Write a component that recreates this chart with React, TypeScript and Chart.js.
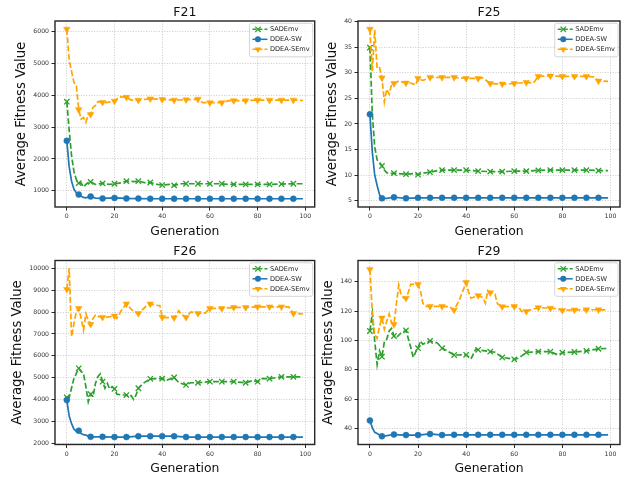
import React, { useEffect, useRef } from 'react';
import { Chart, registerables } from 'chart.js';

Chart.register(...registerables);

// ---------- data ----------
const SERIES_NAMES = ['SADEmv', 'DDEA-SW', 'DDEA-SEmv'];
const X_TICKS = [0, 20, 40, 60, 80, 100];
const X_LABEL = 'Generation';
const Y_LABEL = 'Average Fitness Value';

// F21
const F21_SADE_GEN = [0, 1, 2, 3, 4, 5, 6, 7, 8, 9, 10, 12, 15, 18, 20, 22, 25, 28, 30, 33, 35, 38, 40, 43, 45, 48, 50, 55, 60, 65, 68, 70, 75, 80, 85, 90, 95, 99];
const F21_SADE_VAL = [3800, 2900, 2100, 1600, 1350, 1240, 1250, 1120, 1200, 1260, 1280, 1200, 1230, 1200, 1220, 1240, 1300, 1290, 1300, 1250, 1260, 1200, 1180, 1200, 1170, 1220, 1220, 1220, 1220, 1220, 1200, 1200, 1200, 1200, 1200, 1210, 1220, 1220];
const F21_SW_GEN = [0, 1, 2, 3, 4, 5, 6, 7, 8, 10, 12, 15, 20, 25, 30, 35, 40, 45, 50, 55, 60, 65, 70, 75, 80, 85, 90, 95, 99];
const F21_SW_VAL = [2570, 1750, 1300, 1050, 930, 880, 830, 790, 780, 820, 770, 760, 775, 760, 755, 750, 750, 750, 750, 750, 750, 750, 750, 750, 750, 750, 750, 750, 750];
const F21_SEMV_GEN = [0, 1, 2, 3, 4, 5, 6, 7, 8, 9, 10, 11, 12, 13, 15, 17, 20, 22, 25, 27, 30, 35, 40, 45, 50, 55, 57, 60, 65, 68, 70, 75, 80, 85, 90, 95, 99];
const F21_SEMV_VAL = [6080, 5100, 4750, 4400, 4300, 3550, 3250, 3300, 3150, 3400, 3400, 3620, 3680, 3800, 3780, 3780, 3820, 3950, 3940, 3850, 3850, 3890, 3870, 3850, 3860, 3880, 3770, 3770, 3770, 3830, 3830, 3830, 3850, 3850, 3850, 3850, 3840];
const F21_Y_TICKS = [1000, 2000, 3000, 4000, 5000, 6000];

// F25
const F25_SADE_GEN = [0, 1, 2, 3, 4, 5, 6, 7, 8, 10, 12, 15, 18, 20, 22, 25, 28, 30, 35, 40, 45, 50, 55, 60, 65, 70, 75, 80, 85, 90, 95, 99];
const F25_SADE_VAL = [34.9, 22, 15.5, 13.0, 12.5, 11.8, 11.0, 10.5, 10.3, 10.4, 10.3, 10.2, 10.3, 10.1, 10.4, 10.6, 10.9, 11.0, 11.0, 11.0, 10.8, 10.7, 10.7, 10.8, 10.8, 10.95, 11.0, 11.0, 11.0, 11.0, 10.9, 10.9];
const F25_SW_GEN = [0, 1, 2, 3, 4, 5, 7, 10, 15, 20, 25, 30, 35, 40, 45, 50, 55, 60, 65, 70, 75, 80, 85, 90, 95, 99];
const F25_SW_VAL = [21.9, 14.5, 10.0, 8.0, 6.2, 5.5, 5.5, 5.7, 5.5, 5.6, 5.6, 5.6, 5.6, 5.6, 5.6, 5.6, 5.6, 5.6, 5.6, 5.6, 5.6, 5.6, 5.6, 5.6, 5.6, 5.6];
const F25_SEMV_GEN = [0, 1, 2, 3, 4, 5, 6, 7, 8, 9, 10, 12, 15, 17, 19, 20, 22, 25, 30, 35, 40, 45, 47, 50, 55, 60, 65, 68, 70, 75, 80, 85, 90, 93, 95, 99];
const F25_SEMV_VAL = [38.5, 30.3, 38.4, 30.8, 31.0, 29.0, 24.3, 26.8, 25.8, 27.7, 27.9, 28.4, 28.0, 28.0, 27.6, 28.9, 28.5, 29.1, 29.1, 29.1, 28.9, 28.9, 29.0, 27.9, 27.8, 27.9, 28.1, 28.0, 29.3, 29.4, 29.3, 29.3, 29.3, 29.2, 28.4, 28.3];
const F25_Y_TICKS = [5, 10, 15, 20, 25, 30, 35, 40];

// F26
const F26_SADE_GEN = [0, 1, 3, 5, 6, 7, 8, 9, 10, 11, 12, 13, 14, 15, 16, 17, 18, 19, 20, 21, 23, 25, 26, 27, 28, 29, 30, 32, 35, 38, 40, 42, 45, 47, 50, 52, 55, 60, 65, 70, 75, 78, 80, 82, 85, 90, 95, 99];
const F26_SADE_VAL = [4100, 4100, 4970, 5430, 5280, 5200, 4590, 3900, 4250, 4130, 4740, 5050, 5170, 4820, 4520, 4740, 4490, 4590, 4490, 4250, 4210, 4210, 4130, 4180, 4010, 4200, 4520, 4740, 4950, 4960, 4960, 4890, 5010, 4770, 4670, 4770, 4770, 4820, 4820, 4820, 4770, 4870, 4820, 4960, 4960, 5040, 5040, 5040];
const F26_SW_GEN = [0, 1, 2, 3, 4, 5, 6, 7, 8, 10, 15, 20, 25, 30, 35, 40, 45, 50, 55, 60, 65, 70, 75, 80, 85, 90, 95, 99];
const F26_SW_VAL = [3980, 3250, 2900, 2650, 2550, 2580, 2450, 2400, 2380, 2300, 2300, 2290, 2290, 2330, 2330, 2330, 2330, 2290, 2290, 2290, 2290, 2290, 2290, 2290, 2290, 2290, 2290, 2290];
const F26_SEMV_GEN = [0, 1, 2, 3, 4, 5, 6, 7, 8, 9, 10, 11, 12, 13, 15, 17, 20, 21, 23, 25, 28, 30, 33, 35, 38, 39, 40, 45, 47, 48, 50, 52, 55, 58, 60, 65, 70, 75, 80, 85, 90, 93, 95, 99];
const F26_SEMV_VAL = [9040, 10000, 6870, 7480, 8020, 8170, 7710, 7180, 7920, 7620, 7440, 7710, 7860, 7800, 7760, 7770, 7820, 7710, 8090, 8370, 8020, 7940, 8240, 8370, 8300, 8300, 7760, 7740, 8060, 7900, 7760, 8010, 7940, 7950, 8170, 8170, 8210, 8210, 8240, 8240, 8240, 8240, 7940, 7920];
const F26_Y_TICKS = [2000, 3000, 4000, 5000, 6000, 7000, 8000, 9000, 10000];

// F29
const F29_SADE_GEN = [0, 1, 2, 3, 4, 5, 6, 7, 8, 9, 10, 11, 13, 15, 16, 17, 18, 19, 20, 21, 22, 25, 28, 30, 32, 35, 40, 42, 44, 45, 50, 52, 55, 60, 62, 65, 70, 75, 78, 80, 85, 90, 95, 99];
const F29_SADE_VAL = [106.4, 118.7, 99.6, 83.5, 92.9, 88.9, 99.0, 100.8, 106.4, 108.2, 103.0, 101.9, 105.2, 106.8, 101.0, 95.1, 88.4, 92.0, 94.7, 99.6, 97.4, 99.6, 98.3, 94.7, 92.9, 90.0, 90.2, 87.3, 94.0, 93.6, 92.3, 91.9, 88.4, 87.1, 88.0, 91.8, 92.3, 92.3, 90.2, 91.6, 92.1, 92.8, 94.3, 94.5];
const F29_SW_GEN = [0, 1, 2, 3, 4, 5, 7, 10, 15, 20, 25, 30, 35, 40, 45, 50, 55, 60, 65, 70, 75, 80, 85, 90, 95, 99];
const F29_SW_VAL = [45.4, 40.5, 37.3, 36.5, 35.5, 34.6, 35.0, 35.8, 35.4, 35.4, 36.2, 35.4, 35.6, 35.6, 35.6, 35.6, 35.6, 35.6, 35.6, 35.6, 35.6, 35.6, 35.6, 35.6, 35.6, 35.5];
const F29_SEMV_GEN = [0, 1, 2, 3, 4, 5, 6, 7, 8, 9, 10, 11, 12, 13, 14, 15, 16, 17, 20, 21, 22, 23, 25, 30, 33, 35, 37, 40, 41, 42, 45, 47, 48, 49, 50, 52, 53, 55, 60, 62, 63, 65, 67, 70, 75, 78, 80, 85, 90, 95, 99];
const F29_SEMV_VAL = [148.5, 118.7, 104.1, 101.4, 109.7, 115.3, 107.5, 113.0, 118.0, 112.0, 110.9, 125.0, 137.8, 131.0, 129.0, 128.8, 133.0, 138.2, 138.2, 134.0, 125.4, 123.2, 123.2, 123.2, 123.0, 120.7, 127.0, 139.5, 133.0, 128.8, 130.6, 129.2, 125.4, 134.0, 132.6, 131.5, 125.0, 123.0, 123.2, 122.5, 119.8, 119.8, 120.9, 122.4, 122.0, 121.5, 120.5, 120.8, 120.9, 120.9, 120.7];
const F29_Y_TICKS = [40, 60, 80, 100, 120, 140];

// ---------- styles ----------
const FONT = '"DejaVu Sans", sans-serif';
const SERIES_STYLE = [
  { color: '#2ca02c', dash: [5.8, 2.5], point: 'crossRot', radius: 3.8, rotation: 0 },
  { color: '#1f77b4', dash: [] as number[], point: 'circle', radius: 3.0, rotation: 0 },
  { color: '#ffa500', dash: [5.8, 2.5], point: 'triangle', radius: 3.8, rotation: 180 },
];

type PanelDef = {
  title: string;
  gens: number[][];
  vals: number[][];
  yMin: number;
  yMax: number;
  yTicks: number[];
  left: number;
  top: number;
  width: number;
  height: number;
  padTop: number;
  padRight: number;
  axisW: number;
  axisH: number;
};

const PANELS: PanelDef[] = [
  { title: 'F21', gens: [F21_SADE_GEN, F21_SW_GEN, F21_SEMV_GEN], vals: [F21_SADE_VAL, F21_SW_VAL, F21_SEMV_VAL], yMin: 490, yMax: 6335, yTicks: F21_Y_TICKS, left: 0, top: 0, width: 320, height: 240, padTop: 21, padRight: 3, axisW: 55, axisH: 33 },
  { title: 'F25', gens: [F25_SADE_GEN, F25_SW_GEN, F25_SEMV_GEN], vals: [F25_SADE_VAL, F25_SW_VAL, F25_SEMV_VAL], yMin: 3.8, yMax: 40.1, yTicks: F25_Y_TICKS, left: 320, top: 0, width: 309, height: 240, padTop: 21, padRight: 9, axisW: 38, axisH: 33 },
  { title: 'F26', gens: [F26_SADE_GEN, F26_SW_GEN, F26_SEMV_GEN], vals: [F26_SADE_VAL, F26_SW_VAL, F26_SEMV_VAL], yMin: 1950, yMax: 10355, yTicks: F26_Y_TICKS, left: 0, top: 240, width: 320, height: 237, padTop: 20.5, padRight: 3, axisW: 55, axisH: 32.5 },
  { title: 'F29', gens: [F29_SADE_GEN, F29_SW_GEN, F29_SEMV_GEN], vals: [F29_SADE_VAL, F29_SW_VAL, F29_SEMV_VAL], yMin: 29, yMax: 154.5, yTicks: F29_Y_TICKS, left: 320, top: 240, width: 309, height: 237, padTop: 20.5, padRight: 9, axisW: 38, axisH: 32.5 },
];

const TICK_FONT_SIZE = 6.2;

function drawMarker(ctx: CanvasRenderingContext2D, kind: number, x: number, y: number) {
  const st = SERIES_STYLE[kind];
  ctx.save();
  ctx.fillStyle = st.color;
  ctx.strokeStyle = st.color;
  ctx.setLineDash([]);
  if (kind === 0) {
    const d = st.radius * 0.707;
    ctx.lineWidth = 1.2;
    ctx.beginPath();
    ctx.moveTo(x - d, y - d); ctx.lineTo(x + d, y + d);
    ctx.moveTo(x - d, y + d); ctx.lineTo(x + d, y - d);
    ctx.stroke();
  } else if (kind === 1) {
    ctx.beginPath();
    ctx.arc(x, y, st.radius, 0, Math.PI * 2);
    ctx.fill();
  } else {
    const r = st.radius;
    ctx.beginPath();
    ctx.moveTo(x, y + r);
    ctx.lineTo(x - r * 0.866, y - r * 0.5);
    ctx.lineTo(x + r * 0.866, y - r * 0.5);
    ctx.closePath();
    ctx.fill();
  }
  ctx.restore();
}

const decorPlugin = {
  id: 'decor',
  afterDraw(chart: any, _args: any, opts: any) {
    const ctx: CanvasRenderingContext2D = chart.ctx;
    const a = chart.chartArea;
    ctx.save();
    // frame
    ctx.strokeStyle = '#262626';
    ctx.lineWidth = 1.4;
    ctx.setLineDash([]);
    ctx.strokeRect(a.left, a.top, a.right - a.left, a.bottom - a.top);

    // title
    ctx.fillStyle = '#111';
    ctx.textAlign = 'center';
    ctx.textBaseline = 'middle';
    ctx.font = `12.5px ${FONT}`;
    ctx.fillText(opts.title, (a.left + a.right) / 2, a.top - 8.5);

    // x label
    ctx.font = `12.4px ${FONT}`;
    ctx.fillText(X_LABEL, (a.left + a.right) / 2, a.bottom + 24.5);

    // y label
    ctx.font = `${TICK_FONT_SIZE}px ${FONT}`;
    let maxW = 0;
    for (const t of opts.yTicks as number[]) maxW = Math.max(maxW, ctx.measureText(String(t)).width);
    ctx.save();
    ctx.translate(a.left - maxW - 17.5, (a.top + a.bottom) / 2);
    ctx.rotate(-Math.PI / 2);
    ctx.font = `13.2px ${FONT}`;
    ctx.fillText(Y_LABEL, 0, 0);
    ctx.restore();

    // legend
    ctx.font = `6.6px ${FONT}`;
    let tw = 0;
    for (const n of SERIES_NAMES) tw = Math.max(tw, ctx.measureText(n).width);
    const bw = 20 + tw + 3.5;
    const bh = 33.5;
    const bx = a.right - 2 - bw;
    const by = a.top + 2.3;
    ctx.beginPath();
    const rr = 2;
    ctx.moveTo(bx + rr, by);
    ctx.lineTo(bx + bw - rr, by);
    ctx.quadraticCurveTo(bx + bw, by, bx + bw, by + rr);
    ctx.lineTo(bx + bw, by + bh - rr);
    ctx.quadraticCurveTo(bx + bw, by + bh, bx + bw - rr, by + bh);
    ctx.lineTo(bx + rr, by + bh);
    ctx.quadraticCurveTo(bx, by + bh, bx, by + bh - rr);
    ctx.lineTo(bx, by + rr);
    ctx.quadraticCurveTo(bx, by, bx + rr, by);
    ctx.closePath();
    ctx.fillStyle = 'rgba(255,255,255,0.8)';
    ctx.fill();
    ctx.strokeStyle = '#cccccc';
    ctx.lineWidth = 0.8;
    ctx.stroke();

    for (let i = 0; i < SERIES_NAMES.length; i++) {
      const st = SERIES_STYLE[i];
      const yy = by + 6 + i * 10;
      ctx.strokeStyle = st.color;
      ctx.lineWidth = 1.5;
      ctx.setLineDash(st.dash.length ? [4, 2] : []);
      ctx.beginPath();
      ctx.moveTo(bx + 3, yy);
      ctx.lineTo(bx + 18, yy);
      ctx.stroke();
      ctx.setLineDash([]);
      drawMarker(ctx, i, bx + 8.5, yy);
      ctx.fillStyle = '#222';
      ctx.textAlign = 'left';
      ctx.textBaseline = 'middle';
      ctx.fillText(SERIES_NAMES[i], bx + 20.5, yy + 0.3);
    }
    ctx.restore();
  },
};

function buildConfig(p: PanelDef): any {
  const order = [2, 1, 0]; // top-most dataset first
  const datasets = order.map((k) => {
    const st = SERIES_STYLE[k];
    const data = p.gens[k].map((g, i) => ({ x: g, y: p.vals[k][i] }));
    return {
      label: SERIES_NAMES[k],
      data,
      borderColor: st.color,
      backgroundColor: st.color,
      borderWidth: 1.7,
      borderDash: st.dash,
      tension: 0,
      pointStyle: st.point,
      pointRotation: st.rotation,
      pointBorderColor: st.color,
      pointBackgroundColor: st.color,
      pointBorderWidth: k === 0 ? 1.3 : 0.5,
      pointRadius: (c: any) => {
        const x = c.raw && c.raw.x;
        return x % 5 === 0 && x <= 95 ? st.radius : 0;
      },
      clip: false,
    };
  });
  const tickFont = { family: FONT, size: TICK_FONT_SIZE };
  const gridCommon = {
    color: '#bdbdbd',
    lineWidth: 0.8,
    drawTicks: true,
    tickLength: 3.5,
    tickColor: '#262626',
    tickWidth: 1,
    tickBorderDash: [] as number[],
  };
  return {
    type: 'line',
    data: { datasets },
    plugins: [decorPlugin],
    options: {
      animation: false,
      responsive: false,
      maintainAspectRatio: false,
      devicePixelRatio: 1,
      events: [],
      layout: { padding: { top: p.padTop, right: p.padRight, left: 0, bottom: 0 } },
      plugins: {
        legend: { display: false },
        tooltip: { enabled: false },
        title: { display: false },
        decor: { title: p.title, yTicks: p.yTicks },
      },
      scales: {
        x: {
          type: 'linear',
          min: -4.95,
          max: 103.95,
          afterBuildTicks: (s: any) => { s.ticks = X_TICKS.map((v) => ({ value: v })); },
          afterFit: (s: any) => { s.height = p.axisH; },
          ticks: { font: tickFont, color: '#333', padding: 2.5, autoSkip: false, maxRotation: 0, callback: (v: any) => String(v) },
          grid: gridCommon,
          border: { display: false, dash: [1, 1.6] },
        },
        y: {
          type: 'linear',
          min: p.yMin,
          max: p.yMax,
          afterBuildTicks: (s: any) => { s.ticks = p.yTicks.map((v) => ({ value: v })); },
          afterFit: (s: any) => { s.width = p.axisW; },
          ticks: { font: tickFont, color: '#333', padding: 2.5, autoSkip: false, callback: (v: any) => String(v) },
          grid: gridCommon,
          border: { display: false, dash: [1, 1.6] },
        },
      },
    },
  };
}

function Panel({ p }: { p: PanelDef }) {
  const ref = useRef<HTMLCanvasElement>(null);
  useEffect(() => {
    if (!ref.current) return;
    const chart = new Chart(ref.current, buildConfig(p));
    return () => chart.destroy();
  }, [p]);
  return (
    <canvas
      ref={ref}
      width={p.width}
      height={p.height}
      style={{ position: 'absolute', left: p.left, top: p.top, width: p.width, height: p.height }}
    />
  );
}

export default function App() {
  return (
    <div style={{ position: 'absolute', left: 0, top: 0, width: 629, height: 477, background: '#fff', overflow: 'hidden' }}>
      {PANELS.map((p) => (
        <Panel key={p.title} p={p} />
      ))}
    </div>
  );
}
